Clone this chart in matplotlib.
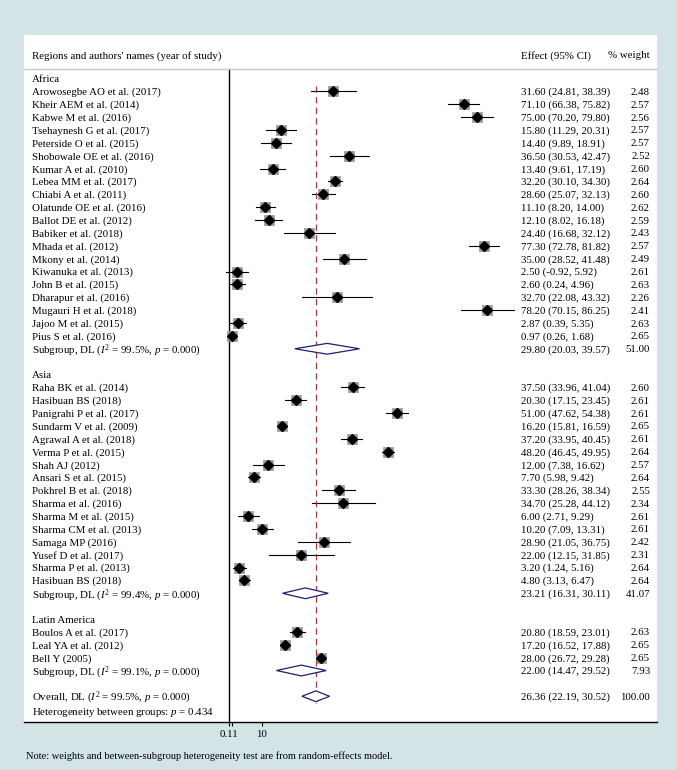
import matplotlib
matplotlib.use("Agg")
import matplotlib.pyplot as plt
import matplotlib.transforms as mtransforms
from matplotlib.patches import Polygon
import numpy as np

plt.rcParams['font.family'] = ['Liberation Serif', 'DejaVu Serif']
plt.rcParams['mathtext.fontset'] = 'custom'
plt.rcParams['mathtext.rm'] = 'Liberation Serif'
plt.rcParams['mathtext.it'] = 'Liberation Serif:italic'

# ---------------- data ----------------
africa_names = ["Arowosegbe AO et al. (2017)", "Kheir AEM et al. (2014)", "Kabwe M et al. (2016)",
                "Tsehaynesh G et al. (2017)", "Peterside O et al. (2015)", "Shobowale OE et al. (2016)",
                "Kumar A et al. (2010)", "Lebea MM et al. (2017)", "Chiabi A et al. (2011)",
                "Olatunde OE et al. (2016)", "Ballot DE et al. (2012)", "Babiker et al. (2018)",
                "Mhada et al. (2012)", "Mkony et al. (2014)", "Kiwanuka et al. (2013)",
                "John B et al. (2015)", "Dharapur et al. (2016)", "Mugauri H et al. (2018)",
                "Jajoo M et al. (2015)", "Pius S et al. (2016)"]
africa_eff = [31.60, 71.10, 75.00, 15.80, 14.40, 36.50, 13.40, 32.20, 28.60, 11.10,
              12.10, 24.40, 77.30, 35.00, 2.50, 2.60, 32.70, 78.20, 2.87, 0.97]
africa_lo = [24.81, 66.38, 70.20, 11.29, 9.89, 30.53, 9.61, 30.10, 25.07, 8.20,
             8.02, 16.68, 72.78, 28.52, -0.92, 0.24, 22.08, 70.15, 0.39, 0.26]
africa_hi = [38.39, 75.82, 79.80, 20.31, 18.91, 42.47, 17.19, 34.30, 32.13, 14.00,
             16.18, 32.12, 81.82, 41.48, 5.92, 4.96, 43.32, 86.25, 5.35, 1.68]
africa_w = [2.48, 2.57, 2.56, 2.57, 2.57, 2.52, 2.60, 2.64, 2.60, 2.62,
            2.59, 2.43, 2.57, 2.49, 2.61, 2.63, 2.26, 2.41, 2.63, 2.65]
africa_sub = (29.80, 20.03, 39.57, 51.00, "99.5%")

asia_names = ["Raha BK et al. (2014)", "Hasibuan BS (2018)", "Panigrahi P et al. (2017)",
              "Sundarm V et al. (2009)", "Agrawal A et al. (2018)", "Verma P et al. (2015)",
              "Shah AJ (2012)", "Ansari S et al. (2015)", "Pokhrel B et al. (2018)",
              "Sharma et al. (2016)", "Sharma M et al. (2015)", "Sharma CM et al. (2013)",
              "Samaga MP (2016)", "Yusef D et al. (2017)", "Sharma P et al. (2013)",
              "Hasibuan BS (2018)"]
asia_eff = [37.50, 20.30, 51.00, 16.20, 37.20, 48.20, 12.00, 7.70, 33.30, 34.70,
            6.00, 10.20, 28.90, 22.00, 3.20, 4.80]
asia_lo = [33.96, 17.15, 47.62, 15.81, 33.95, 46.45, 7.38, 5.98, 28.26, 25.28,
           2.71, 7.09, 21.05, 12.15, 1.24, 3.13]
asia_hi = [41.04, 23.45, 54.38, 16.59, 40.45, 49.95, 16.62, 9.42, 38.34, 44.12,
           9.29, 13.31, 36.75, 31.85, 5.16, 6.47]
asia_w = [2.60, 2.61, 2.61, 2.65, 2.61, 2.64, 2.57, 2.64, 2.55, 2.34,
          2.61, 2.61, 2.42, 2.31, 2.64, 2.64]
asia_sub = (23.21, 16.31, 30.11, 41.07, "99.4%")

latam_names = ["Boulos A et al. (2017)", "Leal YA et al. (2012)", "Bell Y (2005)"]
latam_eff = [20.80, 17.20, 28.00]
latam_lo = [18.59, 16.52, 26.72]
latam_hi = [23.01, 17.88, 29.28]
latam_w = [2.63, 2.65, 2.65]
latam_sub = (22.00, 14.47, 29.52, 7.93, "99.1%")

overall = (26.36, 22.19, 30.52, 100.00, "99.5%")
het_between_p = "0.434"
x_ticks = [0.11, 10]
x_ticklabels = ["0.11", "10"]

groups = [("Africa", africa_names, africa_eff, africa_lo, africa_hi, africa_w, africa_sub),
          ("Asia", asia_names, asia_eff, asia_lo, asia_hi, asia_w, asia_sub),
          ("Latin America", latam_names, latam_eff, latam_lo, latam_hi, latam_w, latam_sub)]

# ---------------- figure ----------------
W, H = 677, 770
BG = '#d3e4e7'
fig = plt.figure(figsize=(W / 100, H / 100), dpi=100, facecolor=BG)
pl, pr, pt, pb = 24, 657, 35, 722
ax = fig.add_axes([pl / W, 1 - pb / H, (pr - pl) / W, (pb - pt) / H])
ax.set_facecolor('white')

x0_px, sx = 228.6, 3.308      # pixel of x=0, px per unit
ax.set_xlim((pl - x0_px) / sx, (pr - x0_px) / sx)
row0_px, rs = 78.5, 12.87
ax.set_ylim((pb - row0_px) / rs, (pt - row0_px) / rs)

for s in ['left', 'right', 'top']:
    ax.spines[s].set_visible(False)
ax.spines['bottom'].set_linewidth(1.0)
ax.set_yticks([])
ax.set_xticks(x_ticks)
ax.set_xticklabels(x_ticklabels, fontsize=7.8)
ax.set_xticks([1], minor=True)
ax.tick_params(axis='x', which='both', length=3, width=0.8, pad=3, direction='out')

trans = mtransforms.blended_transform_factory(ax.transAxes, ax.transData)
def fx(px):
    return (px - pl) / (pr - pl)

FS = 7.8
VA = 'center_baseline'
x_lab, x_eff, x_w = fx(32), fx(521), fx(650)

def txt(x, y, s, ha='left'):
    ax.text(x, y, s, transform=trans, fontsize=FS, va=VA, ha=ha)

# header
y_head = (55 - row0_px) / rs
txt(x_lab, y_head, "Regions and authors' names (year of study)")
txt(x_eff, y_head, "Effect (95% CI)")
txt(x_w, y_head, "% weight", ha='right')
y_line = (69.5 - row0_px) / rs
ax.plot([0, 1], [y_line, y_line], transform=trans, color='#c8c8c8', lw=1.0, clip_on=False)

NAVY = '#1f1f6e'
DH = 0.42

def diamond(eff, lo, hi, r):
    ax.add_patch(Polygon([(lo, r), (eff, r - DH), (hi, r), (eff, r + DH)], closed=True,
                         facecolor='white', edgecolor=NAVY, lw=0.9, zorder=4))

def fmt(e, l, h):
    return f"{e:.2f} ({l:.2f}, {h:.2f})"

r = 0
for gname, names, eff, lo, hi, w, sub in groups:
    txt(x_lab, r, gname)
    r += 1
    for n, e, l, h, ww in zip(names, eff, lo, hi, w):
        ax.plot([l, h], [r, r], color='black', lw=0.8, zorder=3)
        ax.plot([e], [r], marker='s', ms=4.8 * np.sqrt(ww), color='#9a9a9a',
                markeredgecolor='#8a8a8a', markeredgewidth=0.4, zorder=2)
        ax.plot([e], [r], marker='D', ms=4.6, color='black', zorder=4)
        txt(x_lab, r, n)
        txt(x_eff, r, fmt(e, l, h))
        txt(x_w, r, f"{ww:.2f}", ha='right')
        r += 1
    se, sl, sh, sw, si2 = sub
    diamond(se, sl, sh, r)
    txt(x_lab, r, "Subgroup, DL ($I^2$ = " + si2 + ", $p$ = 0.000)")
    txt(x_eff, r, fmt(se, sl, sh))
    txt(x_w, r, f"{sw:.2f}", ha='right')
    r += 2

# overall
oe, ol, oh, ow, oi2 = overall
diamond(oe, ol, oh, r)
txt(x_lab, r - 0.05, "Overall, DL ($I^2$ = " + oi2 + ", $p$ = 0.000)")
txt(x_eff, r, fmt(oe, ol, oh))
txt(x_w, r, f"{ow:.2f}", ha='right')
txt(x_lab, r + 1.12, "Heterogeneity between groups: $p$ = " + het_between_p)

# reference lines
ax.plot([0, 0], [y_line, ax.get_ylim()[0]], color='black', lw=1.0, zorder=1)
ax.plot([oe, oe], [0.6, r + 0.55], color='#9e3b3b', lw=0.9, ls=(0, (5, 3.5)), zorder=3)

fig.text(26 / W, 1 - 756 / H, "Note: weights and between-subgroup heterogeneity test are from random-effects model.",
         fontsize=7.5, va='center', ha='left')

fig.savefig("out.png", dpi=100, facecolor=BG)
